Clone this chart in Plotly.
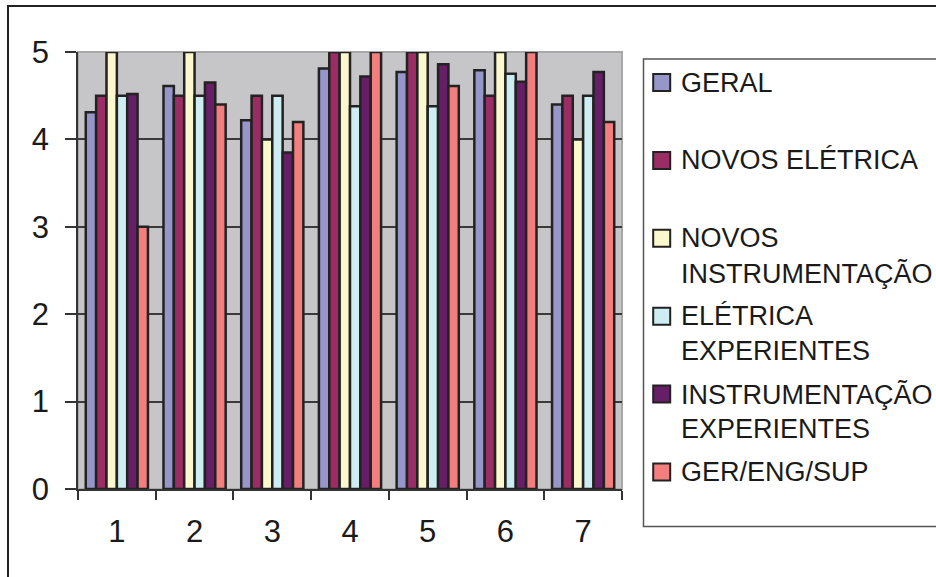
import plotly.graph_objects as go

# Question numbers on the x axis
categories = ["1", "2", "3", "4", "5", "6", "7"]

# Average score per group of respondents
geral = [4.31, 4.61, 4.22, 4.81, 4.77, 4.79, 4.40]
novos_eletrica = [4.5, 4.5, 4.5, 5.0, 5.0, 4.5, 4.5]
novos_instrumentacao = [5.0, 5.0, 4.0, 5.0, 5.0, 5.0, 4.0]
eletrica_experientes = [4.5, 4.5, 4.5, 4.38, 4.38, 4.75, 4.5]
instrumentacao_experientes = [4.52, 4.65, 3.85, 4.72, 4.86, 4.66, 4.77]
ger_eng_sup = [3.0, 4.4, 4.2, 5.0, 4.61, 5.0, 4.2]

series_names = [
    "GERAL",
    "NOVOS ELÉTRICA",
    "NOVOS INSTRUMENTAÇÃO",
    "ELÉTRICA EXPERIENTES",
    "INSTRUMENTAÇÃO EXPERIENTES",
    "GER/ENG/SUP",
]
legend_lines = [
    ["GERAL"],
    ["NOVOS ELÉTRICA"],
    ["NOVOS", "INSTRUMENTAÇÃO"],
    ["ELÉTRICA", "EXPERIENTES"],
    ["INSTRUMENTAÇÃO", "EXPERIENTES"],
    ["GER/ENG/SUP"],
]
series_values = [
    geral,
    novos_eletrica,
    novos_instrumentacao,
    eletrica_experientes,
    instrumentacao_experientes,
    ger_eng_sup,
]
colors = ["#9696C8", "#9A2D63", "#FBF8CE", "#CDEDF2", "#661E66", "#F27E7E"]

W, H = 936, 577
L, R, T, B = 78, 622, 52, 489  # plot area in pixels
FONT = "Arial, 'Liberation Sans', sans-serif"


def px_x(x):
    return (x - L) / (R - L)


def px_y(y):
    return (B - y) / (B - T)


fig = go.Figure()
for name, vals, col in zip(series_names, series_values, colors):
    fig.add_trace(
        go.Bar(
            x=categories,
            y=vals,
            name=name,
            marker=dict(color=col, line=dict(color="#222222", width=2.5)),
            showlegend=False,
        )
    )

shapes = []
annotations = []

# Outer chart frame
shapes.append(dict(type="rect", xref="paper", yref="paper",
                   x0=px_x(8), x1=px_x(945), y0=px_y(6), y1=px_y(590),
                   line=dict(color="#222222", width=2), layer="below"))
# Plot area border (top / right)
shapes.append(dict(type="rect", xref="paper", yref="paper",
                   x0=0, x1=1, y0=0, y1=1,
                   line=dict(color="#A8A8A8", width=2), layer="below"))
# Legend box
shapes.append(dict(type="rect", xref="paper", yref="paper",
                   x0=px_x(643.5), x1=px_x(950), y0=px_y(59), y1=px_y(526.5),
                   line=dict(color="#555555", width=1.5)))

sq = 8.5
for i, (lines, col) in enumerate(zip(legend_lines, colors)):
    cy = 82.5 + i * 77.9
    shapes.append(dict(type="rect", xref="paper", yref="paper",
                       x0=px_x(661.7 - sq), x1=px_x(661.7 + sq),
                       y0=px_y(cy + sq), y1=px_y(cy - sq),
                       fillcolor=col, line=dict(color="#222222", width=2)))
    for j, line in enumerate(lines):
        annotations.append(dict(xref="paper", yref="paper",
                                x=px_x(678.5), y=px_y(cy + j * 34.7),
                                xanchor="left", yanchor="middle",
                                text=line, showarrow=False,
                                font=dict(family=FONT, size=27, color="#1A1A1A")))

fig.update_layout(
    width=W,
    height=H,
    margin=dict(l=L, r=W - R, t=T, b=H - B, pad=0),
    paper_bgcolor="white",
    plot_bgcolor="#C6C6C8",
    barmode="group",
    bargap=0.2,
    bargroupgap=0,
    shapes=shapes,
    annotations=annotations,
    font=dict(family=FONT, color="#1A1A1A"),
    xaxis=dict(
        type="category",
        showline=True, linecolor="#333333", linewidth=1.5,
        ticks="outside", tickson="boundaries", ticklen=9,
        tickcolor="#333333", tickwidth=1.5,
        tickfont=dict(family=FONT, size=31, color="#1A1A1A"),
        ticklabelstandoff=14,
        showgrid=False,
    ),
    yaxis=dict(
        range=[0, 5],
        tickvals=[0, 1, 2, 3, 4, 5],
        showline=True, linecolor="#333333", linewidth=1.5,
        ticks="outside", ticklen=11, tickcolor="#333333", tickwidth=1.5,
        tickfont=dict(family=FONT, size=31, color="#1A1A1A"),
        ticklabelstandoff=10,
        showgrid=True, gridcolor="#3A3A3A", gridwidth=1.5,
        zeroline=False,
    ),
)

fig.write_html("out.html")
